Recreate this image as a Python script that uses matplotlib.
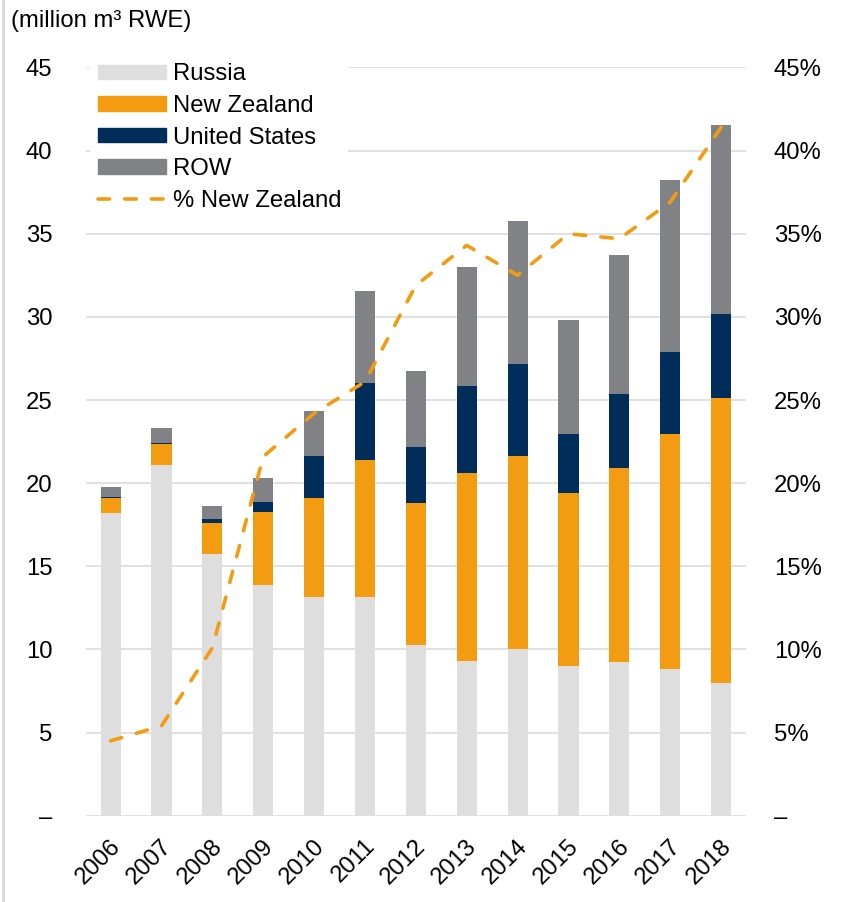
import numpy as np
import matplotlib
matplotlib.use("Agg")
import matplotlib.pyplot as plt
from matplotlib.patches import Patch
from matplotlib.lines import Line2D
from matplotlib.ticker import FixedLocator, FixedFormatter
import matplotlib.transforms as mtransforms

plt.rcParams['font.family'] = ['Liberation Sans', 'DejaVu Sans']

years = ['2006', '2007', '2008', '2009', '2010', '2011', '2012',
         '2013', '2014', '2015', '2016', '2017', '2018']
russia = [18.2, 21.1, 15.75, 13.86, 13.18, 13.17, 10.26, 9.3, 10.0, 8.98, 9.26, 8.84, 7.95]
new_zealand = [0.92, 1.25, 1.85, 4.39, 5.9, 8.2, 8.52, 11.28, 11.61, 10.44, 11.67, 14.09, 17.19]
united_states = [0.05, 0.08, 0.25, 0.61, 2.55, 4.65, 3.39, 5.25, 5.56, 3.53, 4.41, 4.94, 5.02]
row = [0.59, 0.87, 0.75, 1.47, 2.69, 5.51, 4.58, 7.16, 8.61, 6.85, 8.39, 10.36, 11.37]
pct_nz = [4.5, 5.4, 10.1, 21.6, 24.2, 26.1, 31.9, 34.3, 32.5, 35.0, 34.7, 36.9, 41.4]

left_ticks = [0, 5, 10, 15, 20, 25, 30, 35, 40, 45]
left_labels = ['–', '5', '10', '15', '20', '25', '30', '35', '40', '45']
right_labels = ['–', '5%', '10%', '15%', '20%', '25%', '30%', '35%', '40%', '45%']

c_russia = '#DEDEDE'
c_nz = '#F39C12'
c_us = '#002D5A'
c_row = '#808285'
c_grid = '#D9D9D9'
fs = 17.2
dash = (0, (3.2, 4.2))

fig = plt.figure(figsize=(8.42, 9.02), dpi=100)
ax = fig.add_axes([0.1018, 0.0957, 0.7842, 0.8295])

x = np.arange(len(years))
w = 0.395
b1 = np.array(russia)
b2 = b1 + np.array(new_zealand)
b3 = b2 + np.array(united_states)
ax.bar(x, russia, w, color=c_russia, zorder=2)
ax.bar(x, new_zealand, w, bottom=b1, color=c_nz, zorder=2)
ax.bar(x, united_states, w, bottom=b2, color=c_us, zorder=2)
ax.bar(x, row, w, bottom=b3, color=c_row, zorder=2)

ax.set_xlim(-0.49, 12.49)
ax.set_ylim(0, 45)
ax.yaxis.set_major_locator(FixedLocator(left_ticks))
ax.yaxis.set_major_formatter(FixedFormatter(left_labels))
ax.grid(axis='y', color=c_grid, linewidth=1.1, zorder=0)
ax.set_axisbelow(True)
for s in ax.spines.values():
    s.set_visible(False)
ax.tick_params(axis='y', length=0, pad=24, labelsize=fs)
ax.set_xticks(x)
ax.set_xticklabels(years, rotation=45, ha='right', va='top', rotation_mode='anchor', fontsize=fs)
ax.tick_params(axis='x', length=0, pad=14)
shift = mtransforms.ScaledTranslation(-1 / 100, 0, fig.dpi_scale_trans)
for lab in ax.get_xticklabels():
    lab.set_transform(lab.get_transform() + shift)

ax2 = ax.twinx()
ax2.set_ylim(0, 45)
ax2.plot(x, pct_nz, color=c_nz, linewidth=2.6, linestyle=dash,
         dash_capstyle='round', zorder=3)
ax2.yaxis.set_major_locator(FixedLocator(left_ticks))
ax2.yaxis.set_major_formatter(FixedFormatter(right_labels))
ax2.tick_params(axis='y', length=0, pad=20, labelsize=fs)
for s in ax2.spines.values():
    s.set_visible(False)

handles = [Patch(color=c_russia), Patch(color=c_nz), Patch(color=c_us), Patch(color=c_row),
           Line2D([0], [0], color=c_nz, linewidth=2.6, linestyle=dash,
                  dash_capstyle='round')]
labels = ['Russia', 'New Zealand', 'United States', 'ROW', '% New Zealand']
leg = ax2.legend(handles, labels, loc='upper left', bbox_to_anchor=(0.007, 1.015),
                 frameon=True, facecolor='white', edgecolor='none', framealpha=1,
                 fancybox=False, fontsize=fs, handlelength=2.85, handleheight=0.55,
                 handletextpad=0.3, labelspacing=0.4, borderpad=0.3, borderaxespad=0)

fig.text(0.013, 0.977, '(million m³ RWE)', fontsize=fs, ha='left', va='center')
fig.add_artist(Line2D([0.003, 0.003], [0, 1], color=c_grid, linewidth=2,
                      transform=fig.transFigure))

fig.savefig('out.png', dpi=100)
